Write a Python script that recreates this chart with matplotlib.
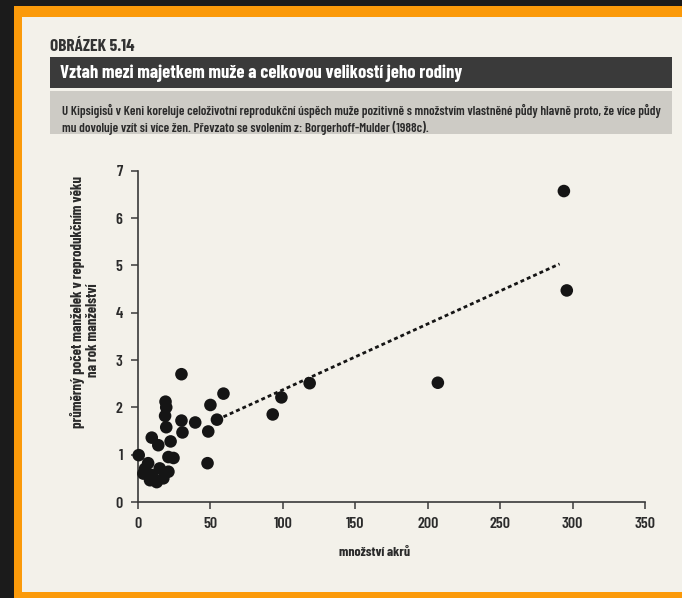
import matplotlib
matplotlib.use("Agg")
import matplotlib.pyplot as plt
from matplotlib import font_manager
from matplotlib.patches import Rectangle

# ---- data ----
acres = [294, 296, 207, 118.5, 99, 93, 59, 50, 54.5, 48.5, 48, 30, 19, 19.5, 18.7,
         19.5, 30, 30.7, 39.5, 9.5, 14, 22.5, 0.5, 21, 24.5, 7, 4.8, 3.7, 9.5, 15,
         17.5, 8.3, 12.9, 21]
wives = [6.57, 4.47, 2.52, 2.51, 2.21, 1.85, 2.29, 2.05, 1.74, 1.49, 0.82, 2.70, 2.12,
         2.00, 1.82, 1.58, 1.72, 1.47, 1.68, 1.36, 1.20, 1.28, 0.99, 0.95, 0.93, 0.82,
         0.70, 0.60, 0.57, 0.71, 0.50, 0.46, 0.42, 0.64]
trend_x = [59, 291]
trend_y = [1.80, 5.03]
x_ticks = [0, 50, 100, 150, 200, 250, 300, 350]
y_ticks = [0, 1, 2, 3, 4, 5, 6, 7]

fig_label = "OBRÁZEK 5.14"
title = "Vztah mezi majetkem muže a celkovou velikostí jeho rodiny"
subtitle1 = ("U Kipsigisů v Keni koreluje celoživotní reprodukční úspěch muže pozitivně "
             "s množstvím vlastněné půdy hlavně proto, že více půdy")
subtitle2 = "mu dovoluje vzít si více žen. Převzato se svolením z: Borgerhoff-Mulder (1988c)."
ylabel1 = "průměrný počet manželek v reprodukčním věku"
ylabel2 = "na rok manželství"
xlabel = "množství akrů"

# ---- font ----
names = {f.name for f in font_manager.fontManager.ttflist}
if "Barlow Condensed" in names:
    plt.rcParams["font.family"] = ["Barlow Condensed", "DejaVu Sans"]
else:
    plt.rcParams["font.family"] = ["DejaVu Sans"]
    plt.rcParams["font.stretch"] = "condensed"

W, H = 682, 598
fig = plt.figure(figsize=(W / 100, H / 100), dpi=100)
fig.patch.set_facecolor("#1b1b1b")

def fx(x):
    return x / W

def fy(y):
    return 1 - y / H

def rect(x0, y0, x1, y1, color, z=-10):
    fig.patches.append(Rectangle((fx(x0), fy(y1)), fx(x1) - fx(x0), fy(y0) - fy(y1),
                                 transform=fig.transFigure, facecolor=color,
                                 edgecolor="none", zorder=z))

rect(14, 6, W, H, "#fb9a0a")
rect(22, 17, W, 592, "#f3f1ea")
rect(50, 57, 672, 88, "#3a3a3a")
rect(50, 91, 672, 134, "#cdcbc5")

TXT = "#2b2b2b"
fig.text(fx(50), fy(46), fig_label, fontsize=12.5, fontweight="bold", color="#333333",
         va="center", ha="left")
fig.text(fx(60), fy(73), title, fontsize=13.4, fontweight="bold", color="white",
         va="center", ha="left")
fig.text(fx(62), fy(111), subtitle1, fontsize=9.4, fontweight="semibold", color=TXT,
         va="center", ha="left")
fig.text(fx(62), fy(128), subtitle2, fontsize=9.4, fontweight="semibold", color=TXT,
         va="center", ha="left")

# ---- axes ----
ax = fig.add_axes([fx(138), fy(502), fx(645) - fx(138), fy(170.7) - fy(502)])
ax.set_facecolor("none")
ax.scatter(acres, wives, s=82, color="#151515", edgecolors="none", zorder=3,
           clip_on=False)
ax.plot(trend_x, trend_y, color="#151515", lw=2.0, linestyle=(0, (1.4, 1.1)), zorder=2)

ax.set_xlim(0, 350)
ax.set_ylim(0, 7)
ax.set_xticks(x_ticks)
ax.set_yticks(y_ticks)
for s in ["top", "right"]:
    ax.spines[s].set_visible(False)
for s in ["left", "bottom"]:
    ax.spines[s].set_color("#3a3a3a")
    ax.spines[s].set_linewidth(1.2)
ax.tick_params(axis="both", direction="out", length=5, width=1.1, color="#3a3a3a",
               labelsize=11.5, labelcolor=TXT)
ax.tick_params(axis="x", pad=6)
ax.tick_params(axis="y", pad=6)
for lab in ax.get_xticklabels() + ax.get_yticklabels():
    lab.set_fontweight("semibold")

fig.text(fx(375), fy(553), xlabel, fontsize=10, fontweight="bold", color=TXT,
         ha="center", va="center")
fig.text(fx(78), fy(302), ylabel1, fontsize=10.5, fontweight="bold", color=TXT,
         ha="center", va="center", rotation=90)
fig.text(fx(93), fy(330), ylabel2, fontsize=10.5, fontweight="bold", color=TXT,
         ha="center", va="center", rotation=90)

fig.savefig("out.png", dpi=100, facecolor=fig.get_facecolor())
